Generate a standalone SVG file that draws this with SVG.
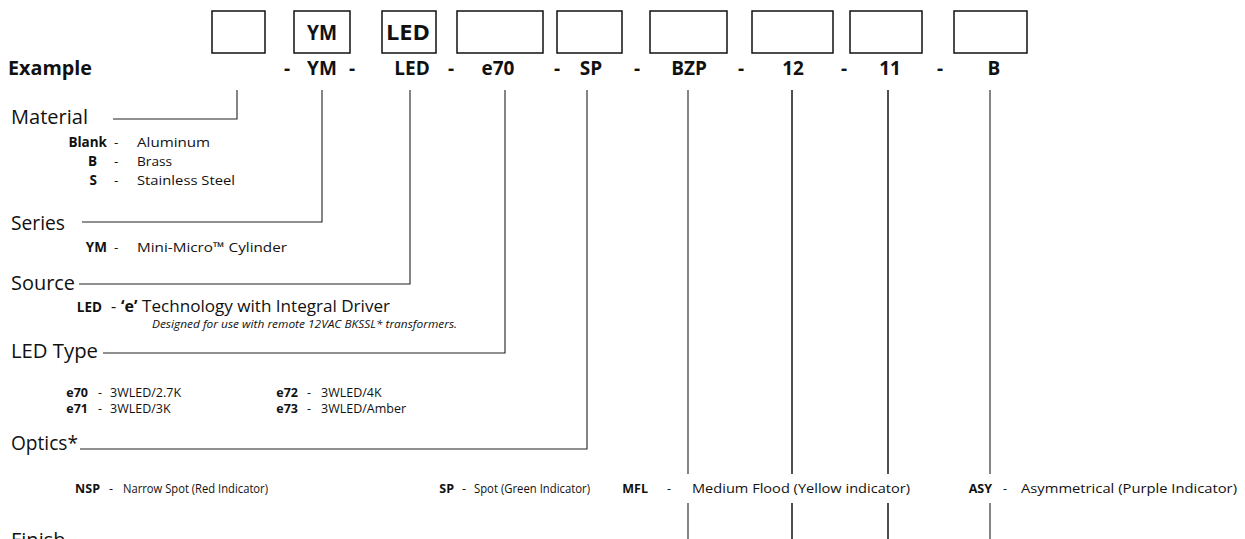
<svg xmlns="http://www.w3.org/2000/svg" width="1245" height="539" viewBox="0 0 1245 539">
<style>
text{font-family:"Open Sans","Noto Sans",sans-serif;fill:#111}
.b{font-weight:bold}
.h{font-size:20px}
.s{font-size:13.5px}
.e{font-size:12.5px}
.n{font-size:12.5px}
.m{font-size:16px}
.i{font-size:11.5px;font-style:italic}
.ex{font-size:19px;font-weight:bold}
.bx{fill:#fff;stroke:#111;stroke-width:1.5}
.ln{fill:none;stroke:#222;stroke-width:1.1}
.tk{stroke-width:1.6}
.c{text-anchor:middle}
.r{text-anchor:end}
</style>
<rect width="1245" height="539" fill="#fff"/>
<g id="boxes">
<g id="box-material"><rect class="bx" x="212" y="11" width="53" height="42"/></g>
<g id="box-series"><rect class="bx" x="294" y="11" width="56" height="42"/><text class="b" x="307" y="40" font-size="21" textLength="30" lengthAdjust="spacingAndGlyphs">YM</text></g>
<g id="box-source"><rect class="bx" x="382" y="11" width="54" height="42"/><text class="b" x="386" y="40" font-size="21" textLength="44" lengthAdjust="spacingAndGlyphs">LED</text></g>
<g id="box-ledtype"><rect class="bx" x="457" y="11" width="86" height="42"/></g>
<g id="box-optics"><rect class="bx" x="557" y="11" width="65" height="42"/></g>
<g id="box-finish"><rect class="bx" x="650" y="11" width="77" height="42"/></g>
<g id="box-12"><rect class="bx" x="752" y="11" width="81" height="42"/></g>
<g id="box-11"><rect class="bx" x="850" y="11" width="72" height="42"/></g>
<g id="box-b"><rect class="bx" x="954" y="11" width="73" height="42"/></g>
</g>
<g id="example">
<text class="ex" x="8" y="75" textLength="84" lengthAdjust="spacingAndGlyphs">Example</text>
<text class="ex c" x="287" y="75">-</text>
<text class="ex c" x="322" y="75">YM</text>
<text class="ex c" x="352" y="75">-</text>
<text class="ex c" x="412" y="75">LED</text>
<text class="ex c" x="451" y="75">-</text>
<text class="ex c" x="498" y="75">e70</text>
<text class="ex c" x="557" y="75">-</text>
<text class="ex c" x="591" y="75">SP</text>
<text class="ex c" x="637" y="75">-</text>
<text class="ex c" x="689" y="75">BZP</text>
<text class="ex c" x="741" y="75">-</text>
<text class="ex c" x="793" y="75">12</text>
<text class="ex c" x="844" y="75">-</text>
<text class="ex c" x="890" y="75">11</text>
<text class="ex c" x="940" y="75">-</text>
<text class="ex c" x="994" y="75">B</text>
</g>
<g id="connectors">
<polyline class="ln" points="113,119 237,119 237,90"/>
<polyline class="ln" points="82,222 322,222 322,90"/>
<polyline class="ln" points="79,284 410,284 410,90"/>
<polyline class="ln" points="103,353 505,353 505,90"/>
<polyline class="ln" points="80,449 587,449 587,90"/>
<line class="ln" x1="688" y1="90" x2="688" y2="474"/>
<line class="ln" x1="688" y1="503" x2="688" y2="539"/>
<line class="ln tk" x1="792" y1="90" x2="792" y2="474"/>
<line class="ln tk" x1="792" y1="503" x2="792" y2="539"/>
<line class="ln tk" x1="888" y1="90" x2="888" y2="474"/>
<line class="ln tk" x1="888" y1="503" x2="888" y2="539"/>
<line class="ln" x1="990" y1="90" x2="990" y2="474"/>
<line class="ln" x1="990" y1="503" x2="990" y2="539"/>
</g>
<g id="material">
<text class="h" x="11" y="124" textLength="77" lengthAdjust="spacingAndGlyphs">Material</text>
<text class="s b r" x="107" y="147">Blank</text><text class="s" x="114" y="147">-</text><text class="s" x="137" y="147" textLength="73" lengthAdjust="spacingAndGlyphs">Aluminum</text>
<text class="s b r" x="97" y="166">B</text><text class="s" x="114" y="166">-</text><text class="s" x="137" y="166" textLength="35" lengthAdjust="spacingAndGlyphs">Brass</text>
<text class="s b r" x="97" y="185">S</text><text class="s" x="114" y="185">-</text><text class="s" x="137" y="185" textLength="98" lengthAdjust="spacingAndGlyphs">Stainless Steel</text>
</g>
<g id="series">
<text class="h" x="11" y="230" textLength="54" lengthAdjust="spacingAndGlyphs">Series</text>
<text class="s b r" x="107" y="252">YM</text><text class="s" x="114" y="252">-</text><text class="s" x="137" y="252" textLength="150" lengthAdjust="spacingAndGlyphs">Mini-Micro™ Cylinder</text>
</g>
<g id="source">
<text class="h" x="11" y="290" textLength="64" lengthAdjust="spacingAndGlyphs">Source</text>
<text class="s b r" x="102" y="312" font-size="15">LED</text><text class="m" x="111" y="312">-</text><text class="m b" x="121" y="312">‘e’</text><text class="m" x="142" y="312" textLength="248" lengthAdjust="spacingAndGlyphs">Technology with Integral Driver</text>
<text class="i" x="152" y="328" textLength="305" lengthAdjust="spacingAndGlyphs">Designed for use with remote 12VAC BKSSL* transformers.</text>
</g>
<g id="ledtype">
<text class="h" x="11" y="358" textLength="87" lengthAdjust="spacingAndGlyphs">LED Type</text>
<text class="e b r" x="88" y="397">e70</text><text class="e" x="98" y="397">-</text><text class="e" x="110" y="397">3WLED/2.7K</text>
<text class="e b r" x="88" y="413">e71</text><text class="e" x="98" y="413">-</text><text class="e" x="110" y="413">3WLED/3K</text>
<text class="e b r" x="298" y="397">e72</text><text class="e" x="307" y="397">-</text><text class="e" x="321" y="397">3WLED/4K</text>
<text class="e b r" x="298" y="413">e73</text><text class="e" x="307" y="413">-</text><text class="e" x="321" y="413">3WLED/Amber</text>
</g>
<g id="optics">
<text class="h" x="11" y="450" textLength="67" lengthAdjust="spacingAndGlyphs">Optics*</text>
<text class="n b r" x="100" y="493">NSP</text><text class="n" x="109" y="493">-</text><text class="n" x="123" y="493" textLength="145" lengthAdjust="spacingAndGlyphs">Narrow Spot (Red Indicator)</text>
<text class="n b r" x="454" y="493">SP</text><text class="n" x="462" y="493">-</text><text class="n" x="474" y="493" textLength="116" lengthAdjust="spacingAndGlyphs">Spot (Green Indicator)</text>
<text class="n b r" x="648" y="493">MFL</text><text class="n" x="667" y="493">-</text><text class="n" x="692" y="493" textLength="218" lengthAdjust="spacingAndGlyphs">Medium Flood (Yellow indicator)</text>
<text class="n b r" x="992" y="493">ASY</text><text class="n" x="1003" y="493">-</text><text class="n" x="1021" y="493" textLength="216" lengthAdjust="spacingAndGlyphs">Asymmetrical (Purple Indicator)</text>
</g>
<g id="finish">
<text class="h" x="11" y="547">Finish</text>
</g>
</svg>
